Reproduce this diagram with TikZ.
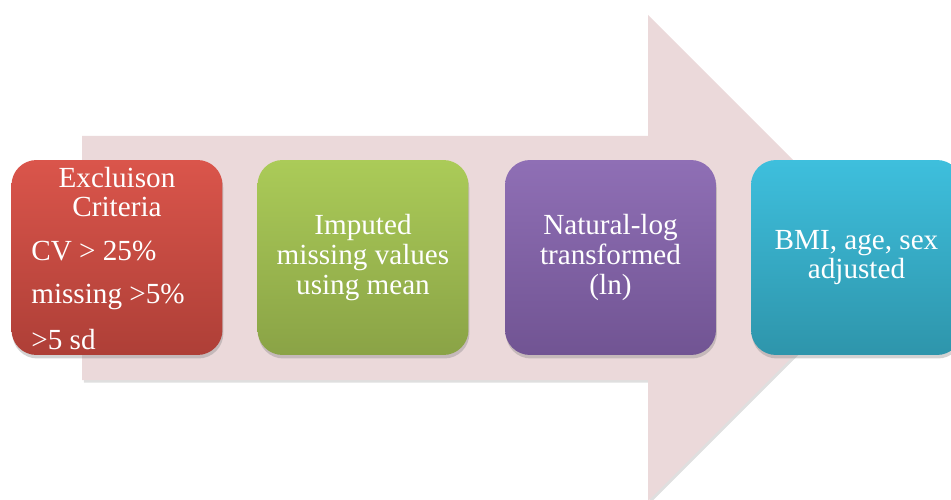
\documentclass[tikz,border=0pt]{standalone}
\usepackage{fontspec}
\newfontfamily\stepfont{Liberation Serif}
\usetikzlibrary{shadows}
\definecolor{arrowpink}{HTML}{EBD9DA}
\definecolor{redtop}{HTML}{DA554B}
\definecolor{redbot}{HTML}{AE3F37}
\definecolor{greentop}{HTML}{ABCB58}
\definecolor{greenbot}{HTML}{8AA346}
\definecolor{purpletop}{HTML}{8F6FB5}
\definecolor{purplebot}{HTML}{715493}
\definecolor{cyantop}{HTML}{3EBFDD}
\definecolor{cyanbot}{HTML}{2E95AB}
\begin{document}
\begin{tikzpicture}[
        x=0.02cm, y=-0.02cm,
        font=\stepfont\fontsize{16.6}{17}\selectfont
    ]
    \tikzset{
        stepbox/.style = {rectangle, rounded corners=0.5cm, minimum width=4.22cm,
            minimum height=3.9cm, inner sep=0pt, text=white, align=center,
            drop shadow={shadow xshift=0.5pt, shadow yshift=-2pt, opacity=0.35}},
        redbox/.style = {stepbox, top color=redtop, bottom color=redbot},
        greenbox/.style = {stepbox, top color=greentop, bottom color=greenbot},
        purplebox/.style = {stepbox, top color=purpletop, bottom color=purplebot},
        cyanbox/.style = {stepbox, top color=cyantop, bottom color=cyanbot},
        boxtext/.style = {text=white, inner sep=0pt},
    }
    \useasboundingbox (0,0) rectangle (951,500);
    % big arrow
    \fill[arrowpink, drop shadow={shadow xshift=1pt, shadow yshift=-1.5pt, opacity=0.25}]
        (82,136) -- (648,136) -- (648,15) -- (891,258) -- (648,501)
        -- (648,380) -- (82,380) -- cycle;
    % steps
    \node[redbox] at (117,257.5) (excl) {};
    \node[greenbox] at (363,257.5) (imput) {Imputed\\missing values\\using mean};
    \node[purplebox] at (610.5,257.5) (lntr) {Natural-log\\transformed\\(ln)};
    \node[cyanbox] at (856.5,257.5) (adj) {BMI, age, sex\\adjusted};
    %
    \node[boxtext, align=center] at (117,192) (excltitle) {Excluison\\Criteria};
    \node[boxtext, anchor=base west] at (31,260) (exclcv) {CV > 25\%};
    \node[boxtext, anchor=base west] at (31,303) (exclmiss) {missing >5\%};
    \node[boxtext, anchor=base west] at (31,349) (exclsd) {>5 sd};
\end{tikzpicture}
\end{document}
